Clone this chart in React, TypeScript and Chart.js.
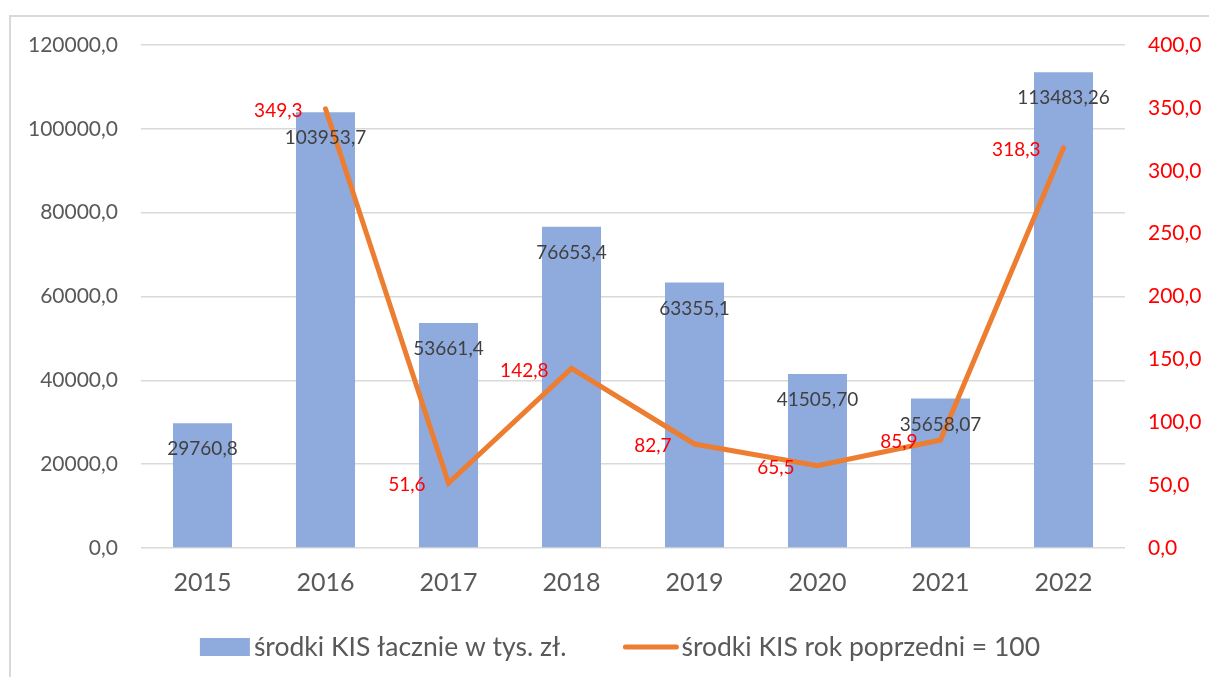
import React, { useEffect, useRef } from "react";
import { Chart, registerables } from "chart.js";

Chart.register(...registerables);

const categories = ["2015", "2016", "2017", "2018", "2019", "2020", "2021", "2022"];
const barValues = [29760.8, 103953.7, 53661.4, 76653.4, 63355.1, 41505.7, 35658.07, 113483.26];
const barValueLabels = ["29760,8", "103953,7", "53661,4", "76653,4", "63355,1", "41505,70", "35658,07", "113483,26"];
const lineValues: (number | null)[] = [null, 349.3, 51.6, 142.8, 82.7, 65.5, 85.9, 318.3];
const lineValueLabels = ["", "349,3", "51,6", "142,8", "82,7", "65,5", "85,9", "318,3"];
const barSeriesName = "środki KIS łacznie w tys. zł.";
const lineSeriesName = "środki KIS rok poprzedni = 100";

const FONT = "Lato, 'Open Sans', sans-serif";
const BAR_COLOR = "#8FAADC";
const LINE_COLOR = "#ED7D31";
const RED = "#FF0000";
const LABEL_GRAY = "#404040";
const AXIS_GRAY = "#595959";
const GRID = "#D9D9D9";

const fmt1 = (v: number) => v.toFixed(1).replace(".", ",");

const framePlugin = {
  id: "frame",
  beforeDraw(chart: any) {
    const { ctx, width, height } = chart;
    ctx.save();
    ctx.fillStyle = "#FFFFFF";
    ctx.fillRect(0, 0, width, height);
    ctx.strokeStyle = GRID;
    ctx.lineWidth = 2;
    ctx.beginPath();
    ctx.moveTo(10, height + 5);
    ctx.lineTo(10, 16);
    ctx.lineTo(width + 5, 16);
    ctx.stroke();
    ctx.restore();
  },
};

const labelsPlugin = {
  id: "valueLabels",
  afterDatasetsDraw(chart: any) {
    const { ctx } = chart;
    ctx.save();
    const barMeta = chart.getDatasetMeta(1);
    ctx.font = `19px ${FONT}`;
    ctx.fillStyle = LABEL_GRAY;
    ctx.textAlign = "center";
    ctx.textBaseline = "middle";
    barMeta.data.forEach((el: any, i: number) => {
      ctx.fillText(barValueLabels[i], el.x, el.y + 26);
    });
    const lineMeta = chart.getDatasetMeta(0);
    ctx.fillStyle = RED;
    ctx.textAlign = "right";
    lineMeta.data.forEach((el: any, i: number) => {
      if (lineValues[i] === null) return;
      ctx.fillText(lineValueLabels[i], el.x - 23, el.y + 2);
    });
    ctx.restore();
  },
};

const legendPlugin = {
  id: "customLegend",
  afterDraw(chart: any) {
    const { ctx } = chart;
    ctx.save();
    ctx.font = `26.5px ${FONT}`;
    ctx.textBaseline = "middle";
    ctx.textAlign = "left";
    const cy = 647;
    const w1 = ctx.measureText(barSeriesName).width;
    const w2 = ctx.measureText(lineSeriesName).width;
    const total = 50 + 4 + w1 + 57 + 55 + 3 + w2;
    let x = 620 - total / 2;
    ctx.fillStyle = BAR_COLOR;
    ctx.fillRect(x, cy - 9, 50, 18);
    x += 54;
    ctx.fillStyle = AXIS_GRAY;
    ctx.fillText(barSeriesName, x, cy);
    x += w1 + 57;
    ctx.strokeStyle = LINE_COLOR;
    ctx.lineWidth = 5;
    ctx.lineCap = "round";
    ctx.beginPath();
    ctx.moveTo(x + 2, cy);
    ctx.lineTo(x + 53, cy);
    ctx.stroke();
    x += 58;
    ctx.fillStyle = AXIS_GRAY;
    ctx.fillText(lineSeriesName, x, cy);
    ctx.restore();
  },
};

export default function App() {
  const ref = useRef<HTMLCanvasElement | null>(null);
  useEffect(() => {
    if (!ref.current) return;
    const chart = new Chart(ref.current, {
      type: "bar",
      data: {
        labels: categories,
        datasets: [
          {
            type: "line",
            label: lineSeriesName,
            data: lineValues,
            yAxisID: "y1",
            borderColor: LINE_COLOR,
            backgroundColor: LINE_COLOR,
            borderWidth: 5,
            borderCapStyle: "round",
            borderJoinStyle: "miter",
            pointRadius: 0,
            tension: 0,
            order: 0,
          } as any,
          {
            type: "bar",
            label: barSeriesName,
            data: barValues,
            yAxisID: "y",
            backgroundColor: BAR_COLOR,
            barPercentage: 0.48,
            categoryPercentage: 1,
            order: 1,
          },
        ],
      },
      options: {
        responsive: false,
        animation: false,
        layout: { padding: { top: 45, bottom: 0, left: 0, right: 0 } },
        plugins: {
          legend: { display: false },
          tooltip: { enabled: false },
        },
        scales: {
          x: {
            grid: { display: false, drawTicks: false },
            border: { display: false },
            ticks: { color: AXIS_GRAY, font: { family: FONT, size: 25 }, padding: 20 },
            afterFit(scale: any) {
              scale.height = 129;
            },
          },
          y: {
            position: "left",
            min: 0,
            max: 120000,
            grid: { color: GRID, lineWidth: 1.5, drawTicks: false },
            border: { display: false },
            ticks: {
              stepSize: 20000,
              color: AXIS_GRAY,
              font: { family: FONT, size: 21 },
              padding: 23,
              callback: (v: any) => fmt1(Number(v)),
            },
            afterFit(scale: any) {
              scale.width = 141;
            },
          },
          y1: {
            position: "right",
            min: 0,
            max: 400,
            grid: { display: false, drawTicks: false },
            border: { display: false },
            ticks: {
              stepSize: 50,
              color: RED,
              font: { family: FONT, size: 21 },
              padding: 23,
              callback: (v: any) => fmt1(Number(v)),
            },
            afterFit(scale: any) {
              scale.width = 84;
            },
          },
        },
      } as any,
      plugins: [framePlugin, labelsPlugin, legendPlugin],
    });
    return () => chart.destroy();
  }, []);
  return (
    <div style={{ position: "absolute", left: 0, top: 0, width: 1209, height: 677 }}>
      <canvas ref={ref} width={1209} height={677} />
    </div>
  );
}
